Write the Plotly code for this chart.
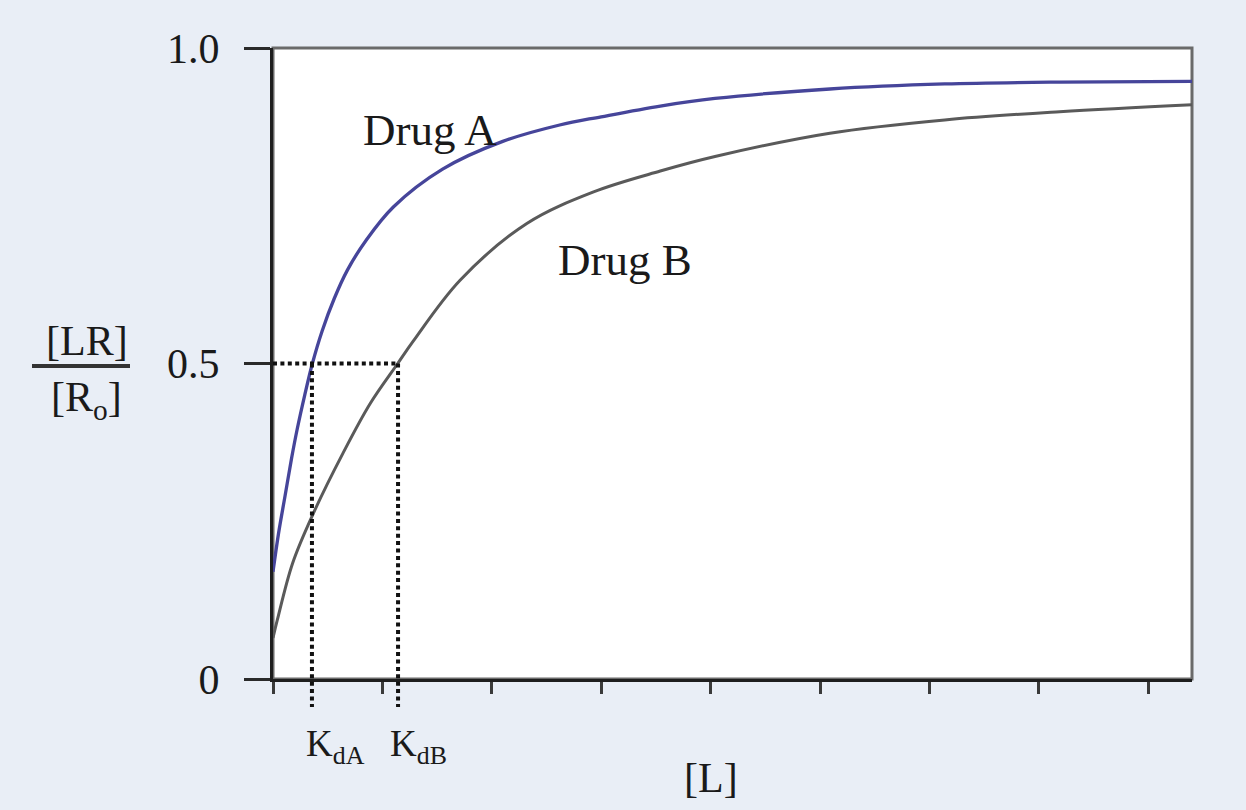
import plotly.graph_objects as go

# ---- data ----
drug_a_x = [0, 0.05, 0.11, 0.17, 0.22, 0.29, 0.36, 0.45, 0.56, 0.68, 0.85, 1.10, 1.55, 2.10, 2.62, 3.00, 3.54, 4.04, 5.09, 6.14, 7.19, 8.40]
drug_a_y = [0.17, 0.23, 0.29, 0.35, 0.395, 0.45, 0.50, 0.552, 0.603, 0.648, 0.695, 0.748, 0.808, 0.852, 0.878, 0.891, 0.908, 0.920, 0.935, 0.943, 0.946, 0.947]

drug_b_x = [0, 0.04, 0.18, 0.37, 0.64, 0.89, 1.14, 1.28, 1.71, 2.32, 2.93, 3.54, 4.04, 5.09, 6.14, 7.19, 8.40]
drug_b_y = [0.065, 0.094, 0.184, 0.263, 0.358, 0.437, 0.50, 0.535, 0.632, 0.722, 0.772, 0.805, 0.828, 0.865, 0.886, 0.899, 0.910]

kd_a = 0.356
kd_b = 1.143
half = 0.5

x_ticks = [0, 1, 2, 3, 4, 5, 6, 7, 8]
y_ticks = [0, 0.5, 1.0]
y_tick_text = ["0", "0.5", "1.0"]

X_MAX = 8.40

# ---- layout geometry (pixels) ----
W, H = 1246, 810
L, R, T, B = 273, 54, 48, 131
PW, PH = W - L - R, H - T - B
BG = "#e9eef6"


def px(xp):
    return (xp - L) / PW


def py(yp):
    return (H - B - yp) / PH


SERIF = "Liberation Serif, Times New Roman, serif"
TXT = "#1a1a1a"

fig = go.Figure()
fig.add_trace(go.Scatter(x=drug_b_x, y=drug_b_y, mode="lines", line=dict(color="#5a5a5a", width=3, shape="spline"),
                         showlegend=False, hoverinfo="skip"))
fig.add_trace(go.Scatter(x=drug_a_x, y=drug_a_y, mode="lines", line=dict(color="#46459a", width=3.3, shape="spline"),
                         showlegend=False, hoverinfo="skip"))

dot = dict(color="#111111", width=4, dash="4px,3.4px")
below = -28 / PH
shapes = [
    # gray frame (top/right)
    dict(type="rect", xref="paper", yref="paper", x0=0, x1=1, y0=0, y1=1,
         line=dict(color="#6a6a6a", width=3), layer="below"),
    # dotted guides
    dict(type="line", xref="x", yref="y", x0=0, x1=kd_b, y0=half, y1=half, line=dot),
    dict(type="line", xref="paper", yref="paper", x0=kd_a / X_MAX, x1=kd_a / X_MAX, y0=half, y1=below, line=dot),
    dict(type="line", xref="paper", yref="paper", x0=kd_b / X_MAX, x1=kd_b / X_MAX, y0=half, y1=below, line=dot),
    # fraction bar of y label
    dict(type="line", xref="paper", yref="paper", x0=px(32), x1=px(130), y0=py(366), y1=py(366),
         line=dict(color="#333333", width=4)),
]

common = dict(showarrow=False, xanchor="center", yanchor="middle")
annotations = [
    dict(x=1.435, y=0.870, xref="x", yref="y", text="Drug A",
         font=dict(family=SERIF, size=45, color=TXT), **common),
    dict(x=3.218, y=0.664, xref="x", yref="y", text="Drug B",
         font=dict(family=SERIF, size=45, color=TXT), **common),
    dict(x=px(87), y=py(341), xref="paper", yref="paper", text="[LR]",
         font=dict(family=SERIF, size=42, color=TXT), **common),
    dict(x=px(86), y=py(400), xref="paper", yref="paper", text="[R<sub>o</sub>]",
         font=dict(family=SERIF, size=42, color=TXT), **common),
    dict(x=px(335), y=py(746), xref="paper", yref="paper", text="K<sub>dA</sub>",
         font=dict(family=SERIF, size=37, color=TXT), **common),
    dict(x=px(418), y=py(746), xref="paper", yref="paper", text="K<sub>dB</sub>",
         font=dict(family=SERIF, size=37, color=TXT), **common),
    dict(x=px(711), y=py(778), xref="paper", yref="paper", text="[L]",
         font=dict(family=SERIF, size=42, color=TXT), **common),
]

fig.update_layout(
    width=W, height=H,
    margin=dict(l=L, r=R, t=T, b=B, pad=0),
    paper_bgcolor=BG,
    plot_bgcolor="#ffffff",
    shapes=shapes,
    annotations=annotations,
    showlegend=False,
    xaxis=dict(range=[0, X_MAX], tickvals=x_ticks, showticklabels=False, ticks="outside", ticklen=12,
               tickwidth=3, tickcolor="#3a3a3a", showline=True, linewidth=3, linecolor="#1e1e1e",
               showgrid=False, zeroline=False, fixedrange=True),
    yaxis=dict(range=[0, 1], tickvals=y_ticks, ticktext=y_tick_text, ticks="outside", ticklen=26,
               tickwidth=3, tickcolor="#2a2a2a", showline=True, linewidth=3, linecolor="#1e1e1e",
               showgrid=False, zeroline=False, ticklabelstandoff=16,
               tickfont=dict(family=SERIF, size=42, color=TXT), fixedrange=True),
)

fig.write_html(
    "out.html",
    config={"displayModeBar": False},
    post_script="document.body.style.margin='0';document.body.style.background='" + BG + "';",
)
